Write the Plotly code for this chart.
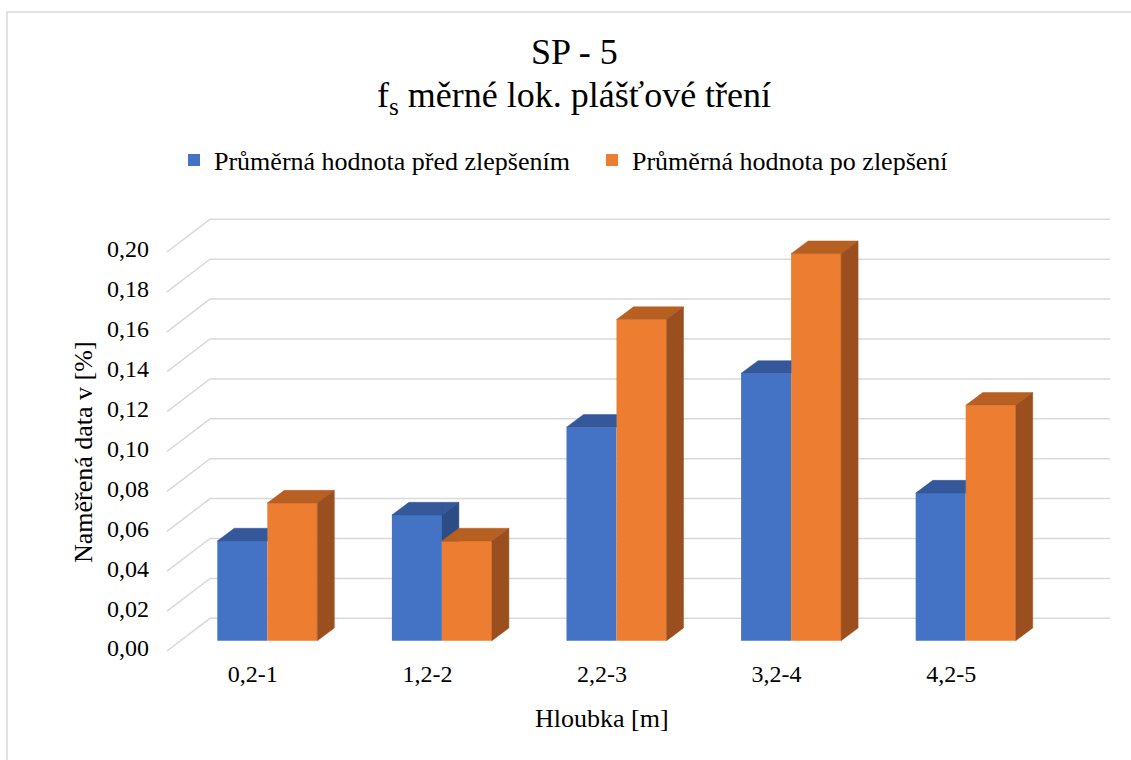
import plotly.graph_objects as go

# ---------------- data ----------------
categories = ["0,2-1", "1,2-2", "2,2-3", "3,2-4", "4,2-5"]
before = [0.050, 0.063, 0.107, 0.134, 0.074]
after = [0.069, 0.050, 0.161, 0.194, 0.118]
series_names = ["Průměrná hodnota před zlepšením", "Průměrná hodnota po zlepšení"]
y_ticks = [0.00, 0.02, 0.04, 0.06, 0.08, 0.10, 0.12, 0.14, 0.16, 0.18, 0.20]
y_tick_labels = ["0,00", "0,02", "0,04", "0,06", "0,08", "0,10", "0,12", "0,14", "0,16", "0,18", "0,20"]

# ---------------- layout geometry (pixels) ----------------
W, H = 1131, 760
L, R, T, B = 166, 1115, 210, 660
PX_PER_X = 174.6
X0_PX = 267.3
PX_PER_Y = 1995.0
Y0_PX = 640.7

x_range = [(L - X0_PX) / PX_PER_X, (R - X0_PX) / PX_PER_X]
y_range = [(Y0_PX - B) / PX_PER_Y, (Y0_PX - T) / PX_PER_Y]


def ddx(px):
    return px / PX_PER_X


def ddy(px):
    return px / PX_PER_Y


def pxx(p):
    return (p - L) / (R - L)


def pxy(p):
    return (B - p) / (B - T)


bar_w = ddx(50)
depth_x = ddx(17)
depth_y = ddy(12.7)

FONT = "'Liberation Serif', 'Times New Roman', serif"
BLUE = "#4472C4"
BLUE_TOP = "#34589A"
BLUE_SIDE = "#2C4C86"
ORANGE = "#ED7D31"
ORANGE_TOP = "#B85F22"
ORANGE_SIDE = "#9C4F1E"
GRID = "#D9D9D9"


# ---------------- polygon clipping helpers ----------------
def clip(poly, inside, intersect):
    out = []
    n = len(poly)
    for k in range(n):
        cur = poly[k]
        prev = poly[k - 1]
        if inside(cur):
            if not inside(prev):
                out.append(intersect(prev, cur))
            out.append(cur)
        elif inside(prev):
            out.append(intersect(prev, cur))
    return out


def ix(xc):
    return lambda a, b: (xc, a[1] + (b[1] - a[1]) * (xc - a[0]) / (b[0] - a[0]))


def iy(yc):
    return lambda a, b: (a[0] + (b[0] - a[0]) * (yc - a[1]) / (b[1] - a[1]), yc)


def area(poly):
    s = 0
    for k in range(len(poly)):
        x1, y1 = poly[k - 1]
        x2, y2 = poly[k]
        s += x1 * y2 - x2 * y1
    return abs(s) / 2


def visible_parts(poly, xc, yc):
    parts = []
    p1 = clip(poly, lambda p: p[0] <= xc + 1e-12, ix(xc))
    p2 = clip(poly, lambda p: p[0] >= xc - 1e-12, ix(xc))
    if p2:
        p2 = clip(p2, lambda p: p[1] >= yc - 1e-12, iy(yc))
    for p in (p1, p2):
        if len(p) >= 3 and area(p) > 1e-9:
            parts.append(p)
    return parts


def join(polys):
    xs, ys = [], []
    for p in polys:
        xs += [q[0] for q in p] + [p[0][0], None]
        ys += [q[1] for q in p] + [p[0][1], None]
    return xs, ys


def top_face(x_left, v):
    return [(x_left, v), (x_left + bar_w, v), (x_left + bar_w + depth_x, v + depth_y), (x_left + depth_x, v + depth_y)]


def side_face(x_right, v):
    return [(x_right, 0), (x_right + depth_x, depth_y), (x_right + depth_x, v + depth_y), (x_right, v)]


fig = go.Figure()

# front faces
fig.add_trace(go.Bar(x=list(range(len(categories))), y=before, width=bar_w, offset=-bar_w,
                     marker=dict(color=BLUE, line=dict(width=0)), name=series_names[0],
                     hovertext=categories, hoverinfo="text+y"))
fig.add_trace(go.Bar(x=list(range(len(categories))), y=after, width=bar_w, offset=0,
                     marker=dict(color=ORANGE, line=dict(width=0)), name=series_names[1],
                     hovertext=categories, hoverinfo="text+y"))

# 3D faces (blue faces clipped where hidden by the orange front face)
blue_tops, blue_sides, or_tops, or_sides = [], [], [], []
for i, (b, o) in enumerate(zip(before, after)):
    blue_tops += visible_parts(top_face(i - bar_w, b), i, o)
    blue_sides += visible_parts(side_face(i, b), i, o)
    or_tops.append(top_face(i, o))
    or_sides.append(side_face(i + bar_w, o))

for polys, col in ((blue_tops, BLUE_TOP), (blue_sides, BLUE_SIDE), (or_tops, ORANGE_TOP), (or_sides, ORANGE_SIDE)):
    xs, ys = join(polys)
    fig.add_trace(go.Scatter(x=xs, y=ys, mode="lines", fill="toself", fillcolor=col,
                             line=dict(color=col, width=0.5), hoverinfo="skip", showlegend=False))

# gridlines on the floor edge + back wall
gx_front = ddx(167 - X0_PX)
gx_back = ddx(210 - X0_PX)
gx_end = ddx(1110 - X0_PX)
g_front_off = -ddy(651 - Y0_PX)
g_back_off = ddy(Y0_PX - 618.3)
shapes = []
for v in y_ticks:
    shapes.append(dict(type="path", xref="x", yref="y", layer="below",
                       path=f"M {gx_front},{v + g_front_off} L {gx_back},{v + g_back_off} L {gx_end},{v + g_back_off}",
                       line=dict(color=GRID, width=1.5)))
# chart border
shapes.append(dict(type="rect", xref="paper", yref="paper", layer="below",
                   x0=pxx(7), x1=pxx(1145), y0=pxy(790), y1=pxy(12),
                   line=dict(color="#D9D9D9", width=1.5), fillcolor="rgba(0,0,0,0)"))

label_shift = -ddy(648 - Y0_PX)

annotations = [
    dict(text="SP - 5", x=pxx(574), y=pxy(52), xref="paper", yref="paper", showarrow=False,
         xanchor="center", yanchor="middle", font=dict(family=FONT, size=36, color="#000")),
    dict(text="f<sub>s</sub> měrné lok. plášťové tření", x=pxx(574), y=pxy(98), xref="paper", yref="paper",
         showarrow=False, xanchor="center", yanchor="middle", font=dict(family=FONT, size=36, color="#000")),
    dict(text="Hloubka [m]", x=pxx(602), y=pxy(718), xref="paper", yref="paper", showarrow=False,
         xanchor="center", yanchor="middle", font=dict(family=FONT, size=26, color="#000")),
    dict(text="Naměřená data v [%]", x=pxx(83), y=pxy(452), xref="paper", yref="paper", showarrow=False,
         textangle=-90, xanchor="center", yanchor="middle", font=dict(family=FONT, size=26, color="#000")),
]

fig.update_layout(
    width=W, height=H,
    margin=dict(l=L, r=W - R, t=T, b=H - B),
    paper_bgcolor="white", plot_bgcolor="white",
    barmode="overlay",
    shapes=shapes,
    annotations=annotations,
    font=dict(family=FONT, size=24, color="#000"),
    legend=dict(orientation="h", x=pxx(174), y=pxy(160), xanchor="left", yanchor="middle",
                entrywidth=373, entrywidthmode="pixels", bgcolor="rgba(0,0,0,0)",
                font=dict(family=FONT, size=26, color="#000")),
    xaxis=dict(range=x_range, showgrid=False, zeroline=False, showline=False, ticks="",
               tickvals=[i - ddx(14.5) for i in range(len(categories))], ticktext=categories,
               ticklabelstandoff=-3, fixedrange=True),
    yaxis=dict(range=y_range, showgrid=False, zeroline=False, showline=False, ticks="",
               tickvals=[v + label_shift for v in y_ticks], ticktext=y_tick_labels,
               ticklabelstandoff=16, fixedrange=True),
)

fig.write_html("out.html")
